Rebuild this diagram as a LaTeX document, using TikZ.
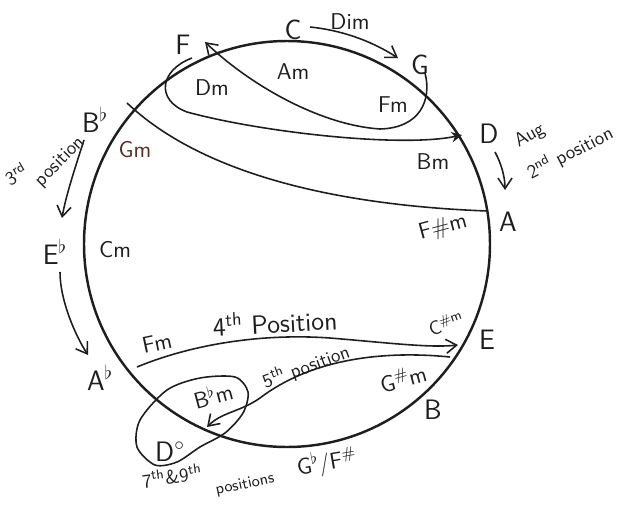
\documentclass[tikz,border=0pt]{standalone}
\usepackage{tikz}
\usetikzlibrary{arrows.meta}
\definecolor{ink}{HTML}{1E1E1E}
\definecolor{gmbrown}{HTML}{5A2E22}

\begin{document}
\begin{tikzpicture}[x=0.02cm, y=-0.02cm,
  every node/.style={font=\sffamily, text=ink, inner sep=1pt},
  keyname/.style={font=\sffamily\fontsize{16}{18}\selectfont},
  chordname/.style={font=\sffamily\fontsize{13}{15}\selectfont},
  posnote/.style={font=\sffamily\fontsize{11}{13}\selectfont},
  ring/.style={draw=ink, line width=1.4pt},
  stroke/.style={draw=ink, line width=0.9pt},
  arr/.style={stroke, -{Straight Barb[length=6pt,width=8pt]}}]
  \useasboundingbox (0,0) rectangle (619,504);
  % Kreis
  \coordinate (o) at (287,244);
  \draw[ring] (o) circle[radius=203];
  % Tonarten am Kreis
  \node[keyname] (F) at (183,45) {F};
  \node[keyname] (C) at (293,30) {C};
  \node[keyname] (G) at (420,65) {G};
  \node[keyname] (D) at (489,134) {D};
  \node[keyname] (A) at (508,222) {A};
  \node[keyname] (E) at (487,340) {E};
  \node[keyname] (B) at (433,410) {B};
  \node[keyname] (Bb) at (95,120) {B$^\flat$};
  \node[keyname] (Eb) at (55,252) {E$^\flat$};
  \node[keyname] (Ab) at (100,378) {A$^\flat$};
  \node[keyname] (Dd) at (170,452) {D$^\circ$};
  % Akkorde innen
  \node[chordname] (dim) at (350,22) {Dim};
  \node[chordname] (am) at (293,72) {Am};
  \node[chordname] (dm) at (212,88) {Dm};
  \node[chordname] (fmtop) at (393,105) {Fm};
  \node[chordname] (bm) at (433,162) {Bm};
  \node[chordname, rotate=15] (fsm) at (443,228) {F\#m};
  \node[chordname, text=gmbrown] (gm) at (135,150) {Gm};
  \node[chordname] (cm) at (115,250) {Cm};
  \node[chordname, rotate=12] (fmlow) at (157,343) {Fm};
  \node[posnote, rotate=20] (csm) at (446,323) {C\textsuperscript{\#m}};
  \node[chordname, rotate=15] (gsm) at (403,378) {G\textsuperscript{\#}m};
  \node[chordname, rotate=15] (bbm) at (213,395) {B$^\flat$m};
  % Lagen
  \node[posnote, rotate=30] (aug) at (530,136) {Aug};
  \node[posnote, rotate=27] (pos2) at (570,153) {2\textsuperscript{nd} position};
  \node[posnote, rotate=30] (third) at (16,174) {3\textsuperscript{rd}};
  \node[posnote, rotate=45] (pos3) at (60,162) {position};
  \node[font=\sffamily\fontsize{15}{17}\selectfont, rotate=3] (pos4) at (275,322) {4\textsuperscript{th} Position};
  \node[posnote, rotate=20] (pos5) at (306,367) {5\textsuperscript{th} position};
  \node[posnote, rotate=8] (pos79) at (172,476) {7\textsuperscript{th}\&9\textsuperscript{th}};
  \node[font=\sffamily\fontsize{9}{11}\selectfont, rotate=12] (poss) at (245,485) {positions};
  \node[chordname, rotate=10] (gbfs) at (327,463) {G$^\flat$/F\textsuperscript{\#}};
  % Endpunkte der Linien
  \coordinate (ctail) at (310,27);
  \coordinate (gtip) at (398,58);
  \coordinate (gtail) at (425,73);
  \coordinate (fhook) at (205,42);
  \coordinate (dmtop) at (192,58);
  \coordinate (dtip) at (462,135);
  \coordinate (gmtick) at (127,103);
  \coordinate (aend) at (487,211);
  \coordinate (dtail) at (495,152);
  \coordinate (atip) at (505,190);
  \coordinate (bbtail) at (84,140);
  \coordinate (ebtip) at (62,218);
  \coordinate (ebtail) at (60,272);
  \coordinate (abtip) at (88,355);
  \coordinate (fmstart) at (137,367);
  \coordinate (etip) at (458,345);
  \coordinate (gsend) at (450,357);
  \coordinate (bbmtip) at (207,427);
  % Pfeile und Linien
  \draw[arr] (ctail) .. controls (340,30) and (370,40) .. (gtip);
  \draw[arr] (gtail) .. controls (432,100) and (420,128) .. (380,129)
    .. controls (320,125) and (250,85) .. (fhook);
  \draw[stroke, -{Stealth[length=6pt,width=6pt]}] (dmtop) .. controls (160,70) and (155,100) .. (187,112)
    .. controls (260,132) and (400,148) .. (dtip);
  \draw[stroke] (gmtick) .. controls (200,172) and (330,205) .. (aend);
  \draw[arr] (dtail) .. controls (502,165) and (505,178) .. (atip);
  \draw[arr] (bbtail) .. controls (76,165) and (66,195) .. (ebtip);
  \draw[arr] (ebtail) .. controls (60,300) and (75,335) .. (abtip);
  \draw[arr] (fmstart) .. controls (190,345) and (260,333) .. (330,338)
    .. controls (390,343) and (430,348) .. (etip);
  \draw[arr] (gsend) .. controls (380,350) and (310,360) .. (260,398)
    .. controls (240,412) and (222,412) .. (bbmtip);
  % Schleife um B-Moll und D-vermindert
  \draw[stroke] plot[smooth cycle] coordinates {(137,447) (140,420) (167,390) (200,378) (235,377)
    (248,392) (243,413) (225,433) (200,447) (177,462) (155,465)};
\end{tikzpicture}
\end{document}
